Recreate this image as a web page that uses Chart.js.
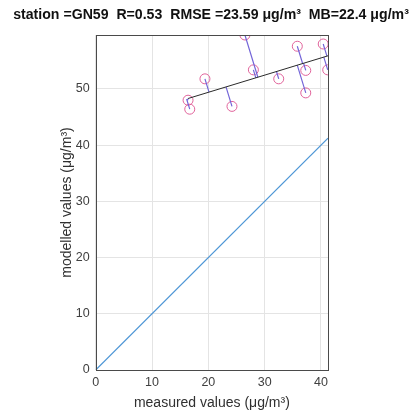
<!DOCTYPE html>
<html>
<head>
<meta charset="utf-8">
<script src="https://cdn.jsdelivr.net/npm/chart.js@4/dist/chart.umd.min.js"></script>
<style>
html,body{margin:0;padding:0;background:#fff;}
#wrap{width:414px;height:412px;position:relative;}
</style>
</head>
<body>
<div id="wrap"><canvas id="c" width="414" height="412"></canvas></div>
<script>
const titleText = "station =GN59  R=0.53  RMSE =23.59 \u03bcg/m\u00b3  MB=22.4 \u03bcg/m\u00b3";
const xLabel = "measured values (\u03bcg/m\u00b3)";
const yLabel = "modelled values (\u03bcg/m\u00b3)";
const measured  = [16.4, 16.7, 19.4, 24.2, 26.5, 28.0, 32.5, 35.8, 37.3, 37.3, 40.4, 41.2];
const modelled  = [48.0, 46.4, 51.8, 46.9, 59.6, 53.4, 51.8, 57.6, 53.3, 49.3, 58.0, 53.4];
const fitX = [16.4, 41.25];
const fitY = [48.3, 55.9];
const identityX = [0, 41.25];
const xMax = 41.25, yMax = 59.6;
const tickStep = 10;

const slope = (fitY[1]-fitY[0])/(fitX[1]-fitX[0]);
const icpt = fitY[0] - slope*fitX[0];
const resid = [];
measured.forEach((x0,i)=>{
  const y0 = modelled[i];
  const fx = (x0 + slope*(y0-icpt))/(1+slope*slope);
  const fy = icpt + slope*fx;
  resid.push({x:x0,y:y0},{x:fx,y:fy},{x:fx,y:null});
});

const FONT = '"Liberation Sans", Arial, sans-serif';

const boxPlugin = {
  id:'box',
  afterDraw(chart){
    const {ctx, chartArea:a} = chart;
    ctx.save();
    ctx.strokeStyle = '#4a4a4a';
    ctx.lineWidth = 1;
    ctx.strokeRect(Math.round(a.left)+0.5, Math.round(a.top)+0.5, Math.round(a.right-a.left), Math.round(a.bottom-a.top));
    ctx.fillStyle = '#111';
    let size = 13;
    ctx.font = 'bold ' + size + 'px ' + FONT;
    const w = ctx.measureText(titleText).width;
    size = Math.min(15, size * 396 / w);
    ctx.font = 'bold ' + size.toFixed(2) + 'px ' + FONT;
    ctx.textAlign = 'center';
    ctx.textBaseline = 'middle';
    ctx.fillText(titleText, 211, 15);
    ctx.restore();
  }
};

new Chart(document.getElementById('c'), {
  type:'scatter',
  data:{
    datasets:[
      {type:'line', data: identityX.map(v=>({x:v,y:v})), borderColor:'#4f97d6', borderWidth:1.2, pointRadius:0, fill:false},
      {type:'line', data: fitX.map((v,i)=>({x:v,y:fitY[i]})), borderColor:'#2a2a2a', borderWidth:1, pointRadius:0, fill:false},
      {type:'line', data: resid, borderColor:'#7466d8', borderWidth:1.2, pointRadius:0, spanGaps:false, fill:false},
      {type:'scatter', data: measured.map((v,i)=>({x:v,y:modelled[i]})), pointStyle:'circle', pointRadius:5, borderColor:'#e0629a', backgroundColor:'rgba(0,0,0,0)', pointBorderWidth:1}
    ]
  },
  plugins:[boxPlugin],
  options:{
    responsive:false, animation:false, devicePixelRatio:1,
    layout:{padding:{left:59,right:86,top:35,bottom:0}},
    plugins:{
      legend:{display:false}, tooltip:{enabled:false}, title:{display:false}
    },
    scales:{
      x:{type:'linear', min:0, max:xMax,
        ticks:{stepSize:tickStep, includeBounds:false, color:'#404040', font:{family:FONT, size:12.5}, padding:5, maxRotation:0},
        grid:{color:'#e4e4e4', drawTicks:false},
        border:{display:false},
        title:{display:true, text:xLabel, color:'#303030', font:{family:FONT, size:14}, padding:{top:4,bottom:0}},
        afterFit(s){ s.height = 42; }
      },
      y:{type:'linear', min:0, max:yMax,
        ticks:{stepSize:tickStep, includeBounds:false, color:'#404040', font:{family:FONT, size:12.5}, padding:6},
        grid:{color:'#e4e4e4', drawTicks:false},
        border:{display:false},
        title:{display:true, text:yLabel, color:'#303030', font:{family:FONT, size:14}, padding:{top:0,bottom:0}},
        afterFit(s){ s.width = 36.7; }
      }
    }
  }
});
</script>
</body>
</html>
